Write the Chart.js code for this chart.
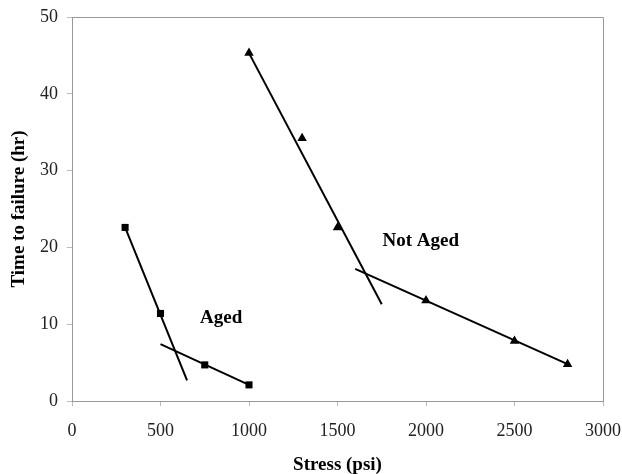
<!DOCTYPE html>
<html>
<head>
<meta charset="utf-8">
<script src="https://cdn.jsdelivr.net/npm/chart.js@4.4.0/dist/chart.umd.min.js"></script>
<style>
  html, body { margin: 0; padding: 0; background: #fff; }
  #wrap { width: 622px; height: 474px; }
</style>
</head>
<body>
<div id="wrap"><canvas id="myChart" width="622" height="474"></canvas></div>
<script>
// measured points
var agedStress = [300, 500, 750, 1000];
var agedTime = [22.6, 11.4, 4.7, 2.1];
var notAgedStress = [1000, 1300, 1500, 2000, 2500, 2800];
var notAgedTime = [45.3, 34.2, 22.6, 13.1, 7.8, 4.8];

// fitted lines (two segments per material)
var agedFitA_x = [300, 650];
var agedFitA_y = [22.6, 2.7];
var agedFitB_x = [500, 1000];
var agedFitB_y = [7.4, 2.1];
var notAgedFitA_x = [1000, 1750];
var notAgedFitA_y = [45.3, 12.6];
var notAgedFitB_x = [1600, 2800];
var notAgedFitB_y = [17.2, 4.8];

var xTicks = [0, 500, 1000, 1500, 2000, 2500, 3000];
var yTicks = [0, 10, 20, 30, 40, 50];

function pts(xs, ys) {
    var out = [];
    for (var i = 0; i < xs.length; i++) {
        out.push({ x: xs[i], y: ys[i] });
    }
    return out;
}

function fitLine(xs, ys) {
    return {
        type: 'line',
        data: pts(xs, ys),
        borderColor: '#000',
        borderWidth: 2,
        pointRadius: 0,
        fill: false,
        tension: 0
    };
}

var serif = "'Liberation Serif', 'Times New Roman', serif";

// gray frame on top/right + the text labels inside the plot
var extras = {
    id: 'extras',
    beforeDatasetsDraw: function (chart) {
        var a = chart.chartArea, ctx = chart.ctx;
        ctx.save();
        ctx.strokeStyle = '#999';
        ctx.lineWidth = 1;
        ctx.beginPath();
        ctx.moveTo(a.left, a.top + 0.5);
        ctx.lineTo(a.right + 0.5, a.top + 0.5);
        ctx.lineTo(a.right + 0.5, a.bottom);
        ctx.stroke();
        ctx.restore();
    },
    afterDatasetsDraw: function (chart) {
        var ctx = chart.ctx, xs = chart.scales.x, ys = chart.scales.y;
        ctx.save();
        ctx.fillStyle = '#000';
        ctx.font = 'bold 19px ' + serif;
        ctx.textAlign = 'center';
        ctx.textBaseline = 'middle';
        ctx.fillText('Aged', xs.getPixelForValue(843), ys.getPixelForValue(10.8));
        ctx.fillText('Not Aged', xs.getPixelForValue(1970), ys.getPixelForValue(20.8));
        ctx.restore();
    }
};

var ctx = document.getElementById('myChart');

var chart = new Chart(ctx, {
    type: 'scatter',
    data: {
        datasets: [
            fitLine(agedFitA_x, agedFitA_y),
            fitLine(agedFitB_x, agedFitB_y),
            fitLine(notAgedFitA_x, notAgedFitA_y),
            fitLine(notAgedFitB_x, notAgedFitB_y),
            {
                label: 'Aged',
                data: pts(agedStress, agedTime),
                pointStyle: 'rect',
                pointRadius: 5,
                backgroundColor: '#000',
                borderColor: '#000',
                borderWidth: 0
            },
            {
                label: 'Not Aged',
                data: pts(notAgedStress, notAgedTime),
                pointStyle: 'triangle',
                pointRadius: 5.5,
                backgroundColor: '#000',
                borderColor: '#000',
                borderWidth: 0
            }
        ]
    },
    options: {
        responsive: false,
        animation: false,
        layout: { padding: { left: 0, right: 19, top: 17, bottom: 0 } },
        plugins: {
            legend: { display: false },
            tooltip: { enabled: false }
        },
        scales: {
            x: {
                type: 'linear',
                min: 0,
                max: 3000,
                afterBuildTicks: function (scale) {
                    scale.ticks = xTicks.map(function (v) { return { value: v }; });
                },
                afterFit: function (scale) {
                    scale.height = 73;
                    scale.paddingLeft = 0;
                    scale.paddingRight = 0;
                },
                border: { color: '#999', width: 1 },
                grid: { drawOnChartArea: false, color: '#bbb', tickLength: 5 },
                ticks: {
                    color: '#222',
                    font: { family: serif, size: 18 },
                    padding: 14,
                    maxRotation: 0,
                    callback: function (v) { return String(v); }
                },
                title: {
                    display: true,
                    text: 'Stress (psi)',
                    color: '#000',
                    font: { family: serif, size: 19, weight: 'bold' },
                    padding: { top: 0, bottom: -2.5 }
                }
            },
            y: {
                type: 'linear',
                min: 0,
                max: 50,
                afterBuildTicks: function (scale) {
                    scale.ticks = yTicks.map(function (v) { return { value: v }; });
                },
                afterFit: function (scale) {
                    scale.width = 72;
                    scale.paddingTop = 0;
                    scale.paddingBottom = 0;
                },
                border: { color: '#999', width: 1 },
                grid: { drawOnChartArea: false, color: '#bbb', tickLength: 5 },
                ticks: {
                    color: '#222',
                    font: { family: serif, size: 18 },
                    padding: 9,
                    callback: function (v) { return String(v); }
                },
                title: {
                    display: true,
                    text: 'Time to failure (hr)',
                    color: '#000',
                    font: { family: serif, size: 19, weight: 'bold' },
                    padding: { top: 8, bottom: 0 }
                }
            }
        }
    },
    plugins: [extras]
});
</script>
</body>
</html>
